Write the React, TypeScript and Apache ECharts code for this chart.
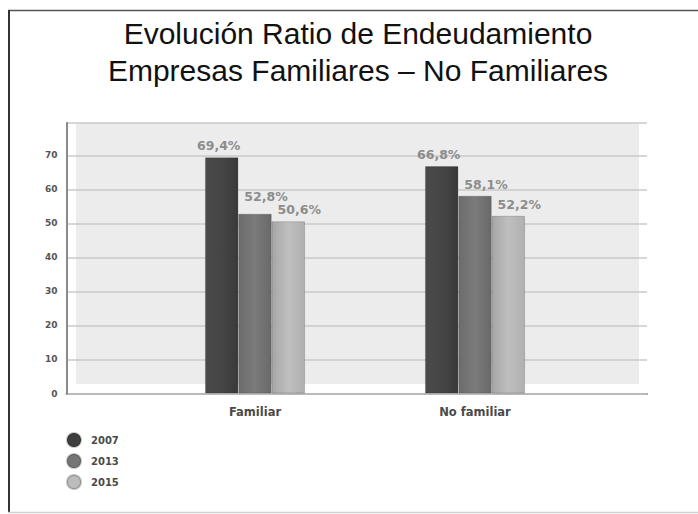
import React, { useEffect, useRef } from "react";
import * as echarts from "echarts";

const categories = ["Familiar", "No familiar"];
const seriesNames = ["2007", "2013", "2015"];
const values2007 = [69.4, 66.8];
const values2013 = [52.8, 58.1];
const values2015 = [50.6, 52.2];
const yTicks = [0, 10, 20, 30, 40, 50, 60, 70];

const titleText = "Evolución Ratio de Endeudamiento\nEmpresas Familiares – No Familiares";

const grad = (stops: [number, string][]) =>
  new echarts.graphic.LinearGradient(
    0, 0, 1, 0,
    stops.map(([offset, color]) => ({ offset, color }))
  );

export default function App() {
  const ref = useRef<HTMLDivElement>(null);

  useEffect(() => {
    if (!ref.current) return;
    const chart = echarts.init(ref.current, null, { renderer: "svg" });
    const labelFont = "DejaVu Sans";
    const fmt = (p: any) => `${Number(p.value).toFixed(1).replace(".", ",")}%`;
    const seriesData = [values2007, values2013, values2015];
    const fills = [
      grad([[0, "#4a4a4a"], [0.6, "#444444"], [1, "#393939"]]),
      grad([[0, "#6c6c6c"], [0.5, "#7b7b7b"], [1, "#696969"]]),
      grad([[0, "#a6a6a6"], [0.5, "#bfbfbf"], [1, "#b0b0b0"]]),
    ];
    const legendColors = ["#3e3e3e", "#767676", "#bcbcbc"];
    const offsets = [[-3, 0], [11, 0], [11, 0]];
    // label of the 2013 "Familiar" bar sits higher in the reference
    const raised: Record<string, number> = { "1-0": -6 };

    chart.setOption({
      animation: false,
      backgroundColor: "#ffffff",
      graphic: {
        elements: [
          {
            type: "rect",
            z: -1,
            shape: { x: 76, y: 123, width: 563, height: 261 },
            style: { fill: "#ececec" },
            silent: true,
          },
          {
            type: "line",
            shape: { x1: 8, y1: 10.5, x2: 698, y2: 10.5 },
            style: { stroke: "#555", lineWidth: 1.5 },
            silent: true,
          },
          {
            type: "line",
            shape: { x1: 9, y1: 10, x2: 9, y2: 512 },
            style: { stroke: "#333", lineWidth: 2 },
            silent: true,
          },
          {
            type: "line",
            shape: { x1: 8, y1: 512.5, x2: 698, y2: 512.5 },
            style: { stroke: "#cfcfcf", lineWidth: 1.5 },
            silent: true,
          },
          {
            type: "text",
            x: 358,
            y: 14.5,
            style: {
              text: titleText,
              align: "center",
              verticalAlign: "top",
              fontSize: 30,
              lineHeight: 37,
              fontFamily: "Liberation Sans, Arial, sans-serif",
              fill: "#111",
            },
          },
        ],
      },
      legend: {
        orient: "vertical",
        left: 66,
        top: 432,
        padding: 0,
        icon: "circle",
        itemWidth: 14,
        itemHeight: 14,
        itemGap: 5,
        data: seriesNames.map((n, i) => ({ name: n, itemStyle: { color: legendColors[i] } })),
        textStyle: {
          fontFamily: labelFont,
          fontWeight: "bold",
          fontSize: 10,
          lineHeight: 14,
          color: "#4a4a4a",
          padding: [0, 0, 0, 5],
        },
      },
      grid: [
        { left: 66.5, right: 51, top: 123, bottom: 120.5 },
        { left: 145, right: 113, top: 123, bottom: 120.5 },
      ],
      xAxis: [
        {
          gridIndex: 0,
          type: "value",
          min: 0,
          max: 1,
          axisLine: { show: true, lineStyle: { color: "#8a8a8a", width: 2 } },
          axisTick: { show: false },
          axisLabel: { show: false },
          splitLine: { show: false },
        },
        {
          gridIndex: 1,
          type: "category",
          data: categories,
          axisLine: { show: false },
          axisTick: { show: false },
          axisLabel: {
            margin: 12,
            fontFamily: labelFont,
            fontWeight: "bold",
            fontSize: 11.5,
            color: "#4a4a4a",
          },
        },
      ],
      yAxis: [
        {
          gridIndex: 0,
          type: "value",
          min: 0,
          max: 79.5,
          interval: 10,
          z: 1,
          axisLine: { show: true, lineStyle: { color: "#8a8a8a", width: 2 } },
          axisTick: { show: false },
          axisLabel: {
            margin: 9,
            fontFamily: labelFont,
            fontWeight: "bold",
            fontSize: 9,
            color: "#555",
            formatter: (v: number) => (yTicks.includes(v) ? String(v) : ""),
          },
          splitLine: { show: true, lineStyle: { color: "#cacaca", width: 1.5 } },
        },
        {
          gridIndex: 1,
          type: "value",
          min: 0,
          max: 79.5,
          show: false,
        },
      ],
      series: seriesNames.map((name, i) => ({
        name,
        type: "bar",
        xAxisIndex: 1,
        yAxisIndex: 1,
        barWidth: 33.3,
        barGap: "0%",
        data: seriesData[i].map((v, j) => {
          const dy = raised[`${i}-${j}`];
          return dy ? { value: v, label: { offset: [offsets[i][0], dy] } } : v;
        }),
        itemStyle: {
          color: fills[i],
          borderColor: "rgba(0,0,0,0.22)",
          borderWidth: 0.8,
        },
        label: {
          show: true,
          position: "top",
          distance: 5,
          offset: offsets[i],
          formatter: fmt,
          fontFamily: labelFont,
          fontWeight: "bold",
          fontSize: 12.5,
          color: "#8c8c8c",
        },
      })),
    });
    return () => chart.dispose();
  }, []);

  return (
    <div
      ref={ref}
      style={{ position: "fixed", left: 0, top: 0, width: 698, height: 514 }}
    />
  );
}
